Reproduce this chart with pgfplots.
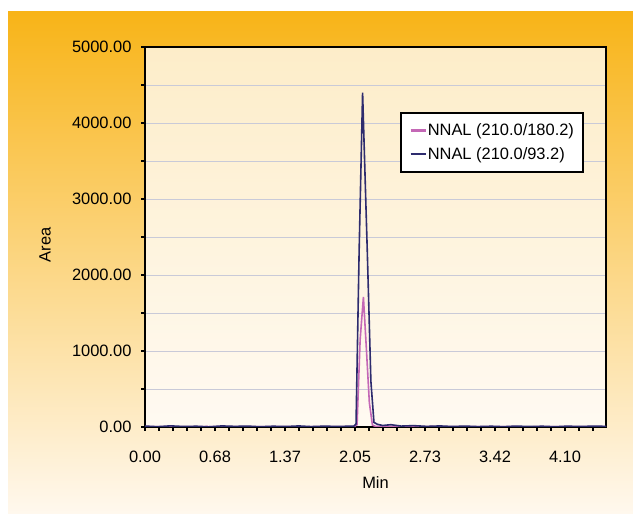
\documentclass[border=0pt]{standalone}
\usepackage{pgfplots}
\pgfplotsset{compat=1.18}
\usepackage{fontspec}
\setmainfont{Liberation Sans}
\usetikzlibrary{shadings}
\definecolor{bgtop}{HTML}{F8B418}
\definecolor{bgmid}{HTML}{FCD78C}
\definecolor{bgbot}{HTML}{FFF8EE}
\definecolor{pltop}{HTML}{FDEDC9}
\definecolor{plbot}{HTML}{FFFAF2}
\definecolor{navyline}{HTML}{2E2C6E}
\definecolor{pinkline}{HTML}{C468B6}
\definecolor{gridc}{HTML}{C9CAD8}
\newcommand{\bigf}{\fontsize{16.5}{19}\selectfont}
\begin{document}
\begin{tikzpicture}[x=1bp,y=1bp]
\fill[white] (0,0) rectangle (633,514);
\shade[top color=bgtop, middle color=bgmid, bottom color=bgbot] (8,0) rectangle (633,502);
\begin{axis}[
  at={(145bp,87bp)}, anchor=south west,
  scale only axis, width=461bp, height=380bp,
  xmin=0, xmax=4.5, ymin=0, ymax=5000,
  axis background/.style={top color=pltop, bottom color=plbot},
  axis line style={black, line width=1.5bp},
  /pgf/number format/assume math mode=true,
  xtick={0,0.683333,1.366667,2.05,2.733333,3.416667,4.1},
  xticklabels={0.00,0.68,1.37,2.05,2.73,3.42,4.10},
  minor xtick={0.136667,0.273333,0.41,0.546667,0.82,0.956667,1.093333,1.23,1.503333,1.64,1.776667,1.913333,2.186667,2.323333,2.46,2.596667,2.87,3.006667,3.143333,3.28,3.553333,3.69,3.826667,3.963333,4.236667,4.373333},
  ytick={0,1000,2000,3000,4000,5000},
  yticklabels={0.00,1000.00,2000.00,3000.00,4000.00,5000.00},
  minor ytick={500,1500,2500,3500,4500},
  ymajorgrids, yminorgrids,
  major grid style={gridc, line width=0.7bp},
  minor grid style={gridc, line width=0.7bp},
  tick align=outside,
  major tick length=4bp, minor tick length=4bp,
  tick style={black, line width=1.2bp},
  xtick pos=bottom, ytick pos=left,
  tick label style={font=\bigf},
  label style={font=\bigf},
  xticklabel style={yshift=-17bp},
  yticklabel style={xshift=-6bp},
  xlabel={Min}, ylabel={Area},
  xlabel style={at={(axis description cs:0.5,-0.145)}, anchor=center},
  ylabel style={at={(axis description cs:-0.217,0.479)}, anchor=center, rotate=0},
  legend style={at={(0.952,0.829)}, anchor=north east, draw=black, line width=1.8bp, fill=white,
    font=\bigf, row sep=8bp, inner xsep=8bp, inner ysep=10bp,
    nodes={inner sep=1bp}},
  legend cell align=left,
  legend image code/.code={\draw[#1, line width=2.5bp] (6bp,0bp) -- (21bp,0bp);},
]
\addplot[pinkline, line width=1.6bp] coordinates {
(0.00,5) (0.30,2) (0.60,6) (0.90,3) (1.20,5) (1.50,2) (1.80,4) (2.04,3)
(2.07,30) (2.10,1150) (2.132,1710) (2.16,1050) (2.19,320) (2.22,25) (2.25,8)
(2.50,4) (2.80,6) (3.10,3) (3.40,5) (3.70,2) (4.00,4) (4.30,3) (4.50,4)
};
\addlegendentry{NNAL (210.0/180.2)}
\addplot[navyline, line width=1.6bp] coordinates {
(0.00,12) (0.12,4) (0.25,15) (0.38,6) (0.50,10) (0.62,2) (0.75,14) (0.88,8)
(1.00,12) (1.12,3) (1.25,10) (1.38,6) (1.50,14) (1.62,5) (1.75,11) (1.88,7)
(1.98,10) (2.04,12) (2.06,40) (2.09,2300) (2.124,4400) (2.17,2300) (2.205,600)
(2.235,60) (2.27,35) (2.32,20) (2.40,30) (2.50,12) (2.62,18) (2.75,8) (2.88,14)
(3.00,6) (3.12,12) (3.25,5) (3.38,10) (3.50,4) (3.62,12) (3.75,6) (3.88,10)
(4.00,3) (4.12,11) (4.25,6) (4.38,12) (4.50,8)
};
\addlegendentry{NNAL (210.0/93.2)}
\end{axis}
\end{tikzpicture}
\end{document}
